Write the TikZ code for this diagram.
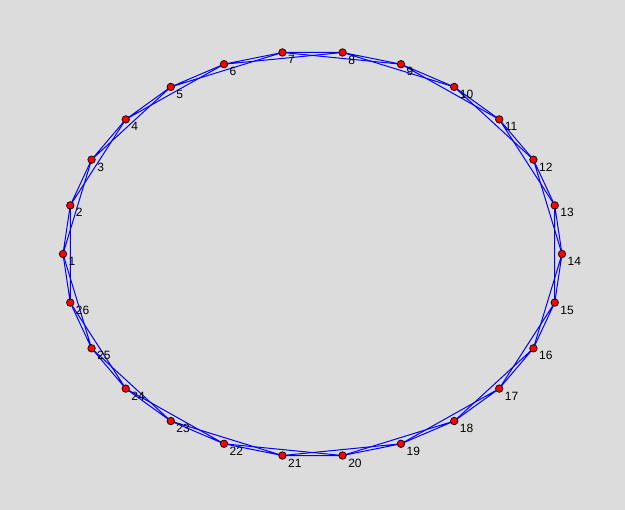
\documentclass[tikz,border=0pt]{standalone}
\usepackage{fontspec}
\setmainfont{Liberation Sans}
\usetikzlibrary{backgrounds}
\definecolor{panel}{RGB}{220,220,220}

\begin{document}
\begin{tikzpicture}[x=1pt,y=1pt]
		\tikzstyle{Dot}=[circle,draw=black,fill=red,line width=0.7pt,minimum size=7.5pt,inner sep=0pt]
		\tikzstyle{Num}=[anchor=north west,inner sep=0pt,font=\fontsize{12}{12}\selectfont]
		\tikzstyle{EdgeStyle}=[blue,line width=1pt]

		\useasboundingbox (-312.5,-256) rectangle (312.5,254);

		% 26 points round the ellipse, 1 on the left, going clockwise
		\foreach \i in {1,...,26} {
			\pgfmathsetmacro{\ang}{180-(\i-1)*360/26}
			\node[Dot] (n\i) at (\ang:249.5 and 203) {};
			\node[Num] (l\i) at ([shift={(5.5,-3)}]n\i.center) {\i};
		}

		\begin{scope}[on background layer]
			\fill[panel] (-312.5,-256) rectangle (312.5,254);
			% each point to the next one and the one after
			\foreach \i in {1,...,26} {
				\pgfmathtruncatemacro{\j}{mod(\i,26)+1}
				\pgfmathtruncatemacro{\k}{mod(\i+1,26)+1}
				\draw[EdgeStyle] (n\i.center) -- (n\j.center) (n\i.center) -- (n\k.center);
			}
		\end{scope}
	\end{tikzpicture}
\end{document}
